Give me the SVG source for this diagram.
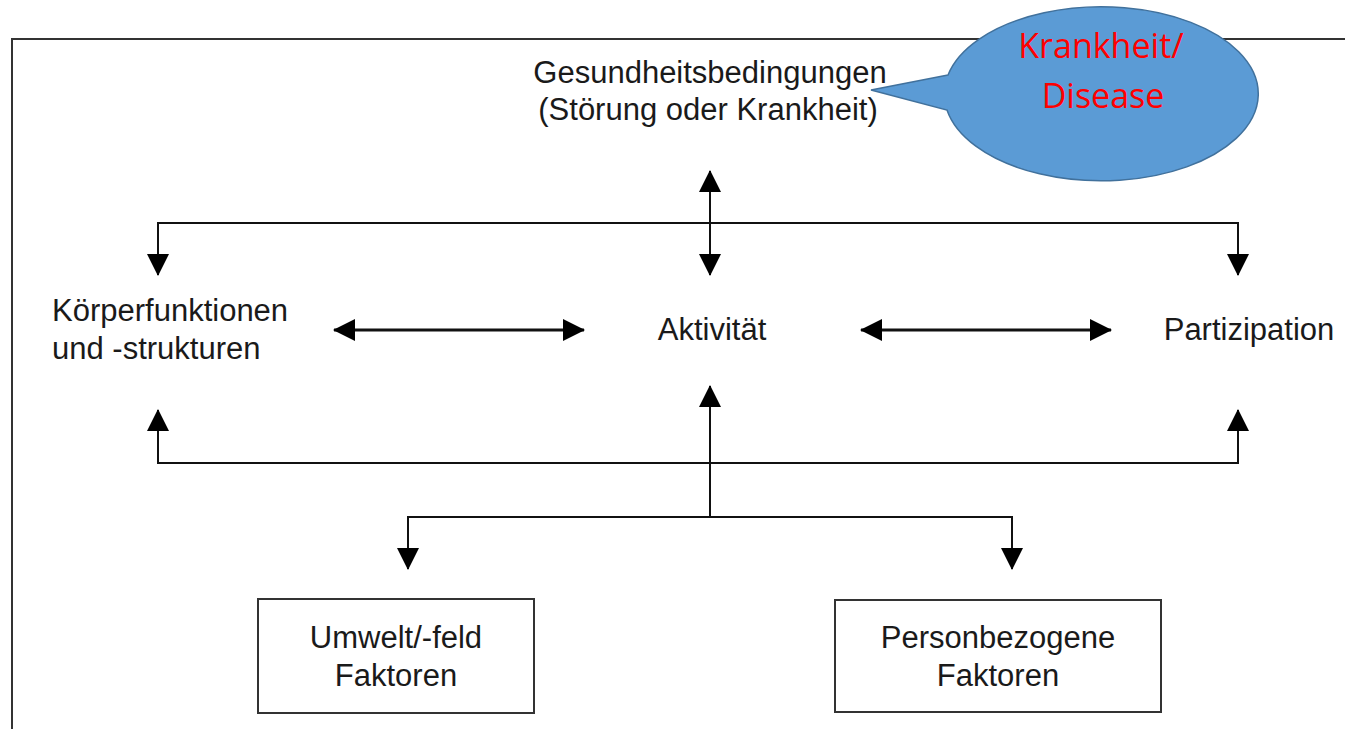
<svg xmlns="http://www.w3.org/2000/svg" width="1345" height="729" viewBox="0 0 1345 729">
  <style>
    .lbl { font-family: "Liberation Sans", Arial, sans-serif; font-size: 31px; fill: #1a1a1a; text-anchor: middle; }
    .lbl-l { font-family: "Liberation Sans", Arial, sans-serif; font-size: 31px; fill: #1a1a1a; text-anchor: start; }
    .red { font-family: "Open Sans", "Noto Sans", sans-serif; font-size: 34px; fill: #ff0000; text-anchor: middle; }
    .thin { fill: none; stroke: #111; stroke-width: 2; }
    .thick { fill: none; stroke: #111; stroke-width: 3; }
    .box { fill: #fff; stroke: #333; stroke-width: 2; }
  </style>
  <defs>
    <marker id="ah" markerUnits="userSpaceOnUse" markerWidth="22" markerHeight="22" refX="21" refY="11" orient="auto-start-reverse" viewBox="0 0 22 22">
      <path d="M0,0 L22,11 L0,22 Z" fill="#000"/>
    </marker>
  </defs>
  <rect x="0" y="0" width="1345" height="729" fill="#fff"/>
  <g id="frame">
    <path d="M12,729 L12,39 L1345,39" fill="none" stroke="#333" stroke-width="2"/>
  </g>
  <g id="connectors">
    <path class="thin" d="M158,275 L158,223 L1238,223 L1238,275" marker-start="url(#ah)" marker-end="url(#ah)"/>
    <path class="thin" d="M710,171 L710,275" marker-start="url(#ah)" marker-end="url(#ah)"/>
    <path class="thick" d="M334,330 L584,330" marker-start="url(#ah)" marker-end="url(#ah)"/>
    <path class="thick" d="M861,330 L1111,330" marker-start="url(#ah)" marker-end="url(#ah)"/>
    <path class="thin" d="M158,410 L158,463 L1238,463 L1238,410" marker-start="url(#ah)" marker-end="url(#ah)"/>
    <path class="thin" d="M710,517 L710,386" marker-end="url(#ah)"/>
    <path class="thin" d="M408,569 L408,517 L1012,517 L1012,569" marker-start="url(#ah)" marker-end="url(#ah)"/>
  </g>
  <g id="node-gesundheit">
    <text class="lbl" x="710" y="83">Gesundheitsbedingungen</text>
    <text class="lbl" x="708" y="120">(Störung oder Krankheit)</text>
  </g>
  <g id="node-koerper">
    <text class="lbl-l" x="52" y="321">Körperfunktionen</text>
    <text class="lbl-l" x="52" y="359">und -strukturen</text>
  </g>
  <g id="node-aktivitaet">
    <text class="lbl" x="712" y="340">Aktivität</text>
  </g>
  <g id="node-partizipation">
    <text class="lbl" x="1249" y="340">Partizipation</text>
  </g>
  <g id="node-umwelt">
    <rect class="box" x="258" y="599" width="276" height="114"/>
    <text class="lbl" x="396" y="648">Umwelt/-feld</text>
    <text class="lbl" x="396" y="686">Faktoren</text>
  </g>
  <g id="node-person">
    <rect class="box" x="835" y="600" width="326" height="112"/>
    <text class="lbl" x="998" y="648">Personbezogene</text>
    <text class="lbl" x="998" y="686">Faktoren</text>
  </g>
  <g id="node-krankheit">
    <path d="M948,75 L871,90 L947,110 A157,87 0 1 0 948,75 Z" fill="#5b9bd5" stroke="#41719c" stroke-width="1.5"/>
    <text class="red" x="1101" y="58">Krankheit/</text>
    <text class="red" x="1103" y="108">Disease</text>
  </g>
</svg>
